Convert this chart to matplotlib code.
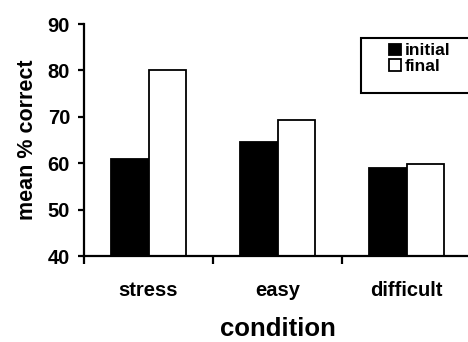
import matplotlib
matplotlib.use("Agg")
import matplotlib.pyplot as plt
from matplotlib.patches import Rectangle
import numpy as np

# data
conditions = ['stress', 'easy', 'difficult']
initial = [61.0, 64.6, 59.0]
final = [80.0, 69.3, 59.8]
yticks = [40, 50, 60, 70, 80, 90]

plt.rcParams['font.family'] = ['Liberation Sans', 'DejaVu Sans']
plt.rcParams['font.weight'] = 'bold'

fig = plt.figure(figsize=(4.68, 3.42), dpi=100)
ax = fig.add_axes([84 / 468, 86 / 342, 387 / 468, 232 / 342])

x = np.arange(len(conditions))
w = 0.29
ax.bar(x - w / 2, initial, w, color='black', edgecolor='black', linewidth=1.3, label='initial')
ax.bar(x + w / 2, final, w, color='white', edgecolor='black', linewidth=1.3, label='final')

ax.set_ylim(40, 90)
ax.set_xlim(-0.5, 2.5)
ax.set_yticks(yticks)
ax.set_yticklabels([str(v) for v in yticks], fontsize=14.5, fontweight='bold')

# major ticks between groups, labels on minor ticks at group centres
ax.set_xticks([-0.5, 0.5, 1.5, 2.5])
ax.set_xticklabels([])
ax.set_xticks(x, minor=True)
ax.set_xticklabels(conditions, minor=True, fontsize=14.5, fontweight='bold')
ax.tick_params(axis='x', which='major', direction='out', length=6, width=1.6)
ax.tick_params(axis='x', which='minor', length=0, pad=18)
ax.tick_params(axis='y', direction='out', length=4, width=1.6, pad=6)

for side in ['top', 'right']:
    ax.spines[side].set_visible(False)
for side in ['left', 'bottom']:
    ax.spines[side].set_linewidth(1.6)

ax.set_xlabel('condition', fontsize=18.5, fontweight='bold', labelpad=12)
ax.set_ylabel('mean % correct', fontsize=15.5, fontweight='bold', labelpad=7)

# legend with a frame running off the right edge, as in the original
fig.patches.append(Rectangle((361 / 468, 1 - 93 / 342), 115 / 468, 55 / 342,
                             transform=fig.transFigure, facecolor='white',
                             edgecolor='black', linewidth=1.5, zorder=5))
leg = fig.legend(loc='upper left', bbox_to_anchor=(386 / 468, 1 - 40 / 342),
                 bbox_transform=fig.transFigure, frameon=False,
                 prop={'size': 12.5, 'weight': 'bold'},
                 handlelength=0.65, handleheight=0.65, handletextpad=0.25,
                 labelspacing=0.05, borderaxespad=0, borderpad=0.2)
leg.set_zorder(6)

fig.savefig('out.png', dpi=100)
